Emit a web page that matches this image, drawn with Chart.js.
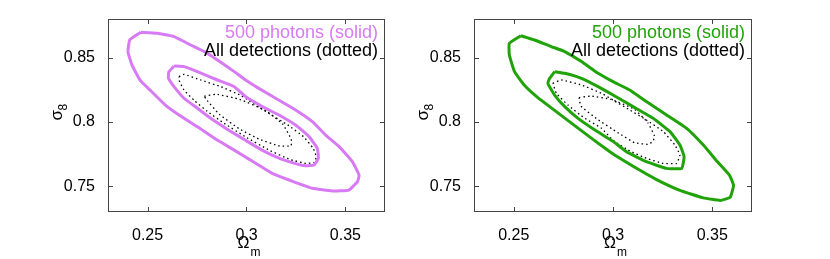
<!DOCTYPE html>
<html>
<head>
<meta charset="utf-8">
<script src="https://cdn.jsdelivr.net/npm/chart.js@4.4.1/dist/chart.umd.min.js"></script>
<style>
  html, body { margin: 0; padding: 0; background: #fff; }
  #wrap { position: relative; width: 830px; height: 259px; }
  .pane { position: absolute; top: 0; width: 415px; height: 259px; }
</style>
</head>
<body>
<div id="wrap">
  <div class="pane" style="left:0"><canvas id="left"></canvas></div>
  <div class="pane" style="left:415px"><canvas id="right"></canvas></div>
</div>
<script>
// tick values
const xTicks = [0.25, 0.3, 0.35];
const yTicks = [0.75, 0.8, 0.85];

// contours, [omega_m, sigma_8]
const leftSolidOuter = [
  [0.2466, 0.8697], [0.2410, 0.8638], [0.2401, 0.8545], [0.2422, 0.8440], [0.2463, 0.8323],
  [0.2514, 0.8246], [0.2590, 0.8131], [0.2659, 0.8054], [0.2752, 0.7962], [0.2852, 0.7859],
  [0.2938, 0.7781], [0.3010, 0.7713], [0.3130, 0.7600], [0.3233, 0.7538], [0.3333, 0.7484],
  [0.3434, 0.7463], [0.3517, 0.7470], [0.3561, 0.7536], [0.3569, 0.7587], [0.3535, 0.7691],
  [0.3468, 0.7808], [0.3400, 0.7898], [0.3333, 0.8002], [0.3248, 0.8093], [0.3147, 0.8184],
  [0.3062, 0.8261], [0.2995, 0.8326], [0.2938, 0.8391], [0.2853, 0.8481], [0.2786, 0.8547],
  [0.2718, 0.8598], [0.2634, 0.8663], [0.2549, 0.8689]
];
const leftSolidInner = [
  [0.2634, 0.8435], [0.2608, 0.8391], [0.2605, 0.8344], [0.2634, 0.8274], [0.2684, 0.8184],
  [0.2752, 0.8106], [0.2819, 0.8028], [0.2904, 0.7942], [0.2995, 0.7857], [0.3076, 0.7783],
  [0.3167, 0.7717], [0.3253, 0.7674], [0.3299, 0.7659], [0.3341, 0.7665], [0.3363, 0.7717],
  [0.3358, 0.7795], [0.3316, 0.7886], [0.3248, 0.7976], [0.3164, 0.8054], [0.3080, 0.8119],
  [0.2995, 0.8197], [0.2938, 0.8274], [0.2853, 0.8326], [0.2752, 0.8391], [0.2684, 0.8430]
];
const leftDotOuter = [
  [0.2659, 0.8352], [0.2684, 0.8370], [0.2768, 0.8326], [0.2870, 0.8274], [0.2970, 0.8207],
  [0.3096, 0.8082], [0.3208, 0.7977], [0.3289, 0.7884], [0.3337, 0.7795], [0.3352, 0.7733],
  [0.3344, 0.7686], [0.3299, 0.7678], [0.3218, 0.7709], [0.3117, 0.7779], [0.2995, 0.7884],
  [0.2887, 0.7989], [0.2802, 0.8082], [0.2735, 0.8168], [0.2684, 0.8248], [0.2659, 0.8324]
];
const leftDotInner = [
  [0.2787, 0.8201], [0.2847, 0.8215], [0.2965, 0.8176], [0.3100, 0.8085], [0.3184, 0.7981],
  [0.3226, 0.7865], [0.3225, 0.7814], [0.3167, 0.7813], [0.3066, 0.7865], [0.2965, 0.7945],
  [0.2863, 0.8059], [0.2796, 0.8176]
];

const rightSolidOuter = [
  [0.2536, 0.8670], [0.2478, 0.8611], [0.2478, 0.8520], [0.2504, 0.8391], [0.2554, 0.8285],
  [0.2620, 0.8191], [0.2706, 0.8090], [0.2792, 0.7989], [0.2879, 0.7888], [0.2960, 0.7795],
  [0.3010, 0.7741], [0.3101, 0.7655], [0.3217, 0.7554], [0.3337, 0.7468], [0.3455, 0.7410],
  [0.3540, 0.7390], [0.3590, 0.7414], [0.3607, 0.7507], [0.3587, 0.7585], [0.3526, 0.7690],
  [0.3455, 0.7820], [0.3371, 0.7950], [0.3270, 0.8054], [0.3168, 0.8158], [0.3084, 0.8248],
  [0.3000, 0.8313], [0.2925, 0.8378], [0.2841, 0.8469], [0.2757, 0.8547], [0.2689, 0.8586],
  [0.2605, 0.8637]
];
const rightSolidInner = [
  [0.2706, 0.8391], [0.2681, 0.8339], [0.2672, 0.8300], [0.2706, 0.8209], [0.2757, 0.8119],
  [0.2824, 0.8028], [0.2909, 0.7937], [0.3000, 0.7849], [0.3067, 0.7769], [0.3168, 0.7691],
  [0.3270, 0.7639], [0.3346, 0.7639], [0.3358, 0.7730], [0.3337, 0.7820], [0.3287, 0.7925],
  [0.3202, 0.8028], [0.3101, 0.8119], [0.3000, 0.8209], [0.2925, 0.8274], [0.2841, 0.8339],
  [0.2757, 0.8378]
];
const rightDotOuter = [
  [0.2697, 0.8300], [0.2740, 0.8326], [0.2841, 0.8287], [0.2943, 0.8222], [0.3000, 0.8170],
  [0.3084, 0.8093], [0.3168, 0.8015], [0.3253, 0.7925], [0.3312, 0.7820], [0.3337, 0.7743],
  [0.3320, 0.7678], [0.3253, 0.7678], [0.3168, 0.7717], [0.3084, 0.7775], [0.3000, 0.7857],
  [0.2943, 0.7950], [0.2858, 0.8028], [0.2773, 0.8131], [0.2715, 0.8222]
];
const rightDotInner = [
  [0.2829, 0.8189], [0.2888, 0.8201], [0.2990, 0.8176], [0.3108, 0.8098], [0.3175, 0.7995],
  [0.3209, 0.7890], [0.3201, 0.7849], [0.3175, 0.7826], [0.3108, 0.7839], [0.3024, 0.7917],
  [0.2922, 0.8020], [0.2838, 0.8124]
];

const FONT = '"Liberation Sans", Arial, Helvetica, sans-serif';

const closed = function (pts) {
  const out = pts.map(p => ({x: p[0], y: p[1]}));
  out.push({x: pts[0][0], y: pts[0][1]});
  return out;
};

const solid = function (pts, color) {
  return {
    data: closed(pts), showLine: true, pointRadius: 0, borderColor: color,
    borderWidth: 3, tension: 0.12, fill: false
  };
};
const dotted = function (pts) {
  return {
    data: closed(pts), showLine: true, pointRadius: 0, borderColor: '#000',
    borderWidth: 1.3, borderDash: [1.5, 3], tension: 0.12, fill: false
  };
};

// frame, inward ticks, sub-scripted axis titles and the text legend
const decor = {
  id: 'decor',
  afterDraw(chart, args, opts) {
    const ctx = chart.ctx;
    const a = chart.chartArea;
    const xs = chart.scales.x, ys = chart.scales.y;
    ctx.save();
    ctx.strokeStyle = '#444';
    ctx.lineWidth = 1;
    ctx.strokeRect(a.left + 0.5, a.top + 0.5, a.right - a.left - 1, a.bottom - a.top - 1);
    ctx.beginPath();
    xTicks.forEach(v => {
      const px = Math.round(xs.getPixelForValue(v)) + 0.5;
      ctx.moveTo(px, a.bottom); ctx.lineTo(px, a.bottom - 5);
      ctx.moveTo(px, a.top); ctx.lineTo(px, a.top + 5);
    });
    yTicks.forEach(v => {
      const py = Math.round(ys.getPixelForValue(v)) + 0.5;
      ctx.moveTo(a.left, py); ctx.lineTo(a.left + 5, py);
      ctx.moveTo(a.right, py); ctx.lineTo(a.right - 5, py);
    });
    ctx.stroke();

    ctx.fillStyle = '#000';
    // x title: Omega_m
    const cx = (a.left + a.right) / 2 - 6;
    ctx.font = '16px ' + FONT;
    ctx.textAlign = 'left';
    ctx.textBaseline = 'alphabetic';
    ctx.fillText('Ω', cx - 3, 248);
    ctx.font = '12px ' + FONT;
    ctx.fillText('m', cx + 10, 256);
    // y title: sigma_8
    ctx.save();
    ctx.translate(a.left - 46, (a.top + a.bottom) / 2 + 5);
    ctx.rotate(-Math.PI / 2);
    ctx.font = '17px ' + FONT;
    ctx.fillText('σ', 0, 0);
    ctx.font = '12px ' + FONT;
    ctx.fillText('8', 10, 5);
    ctx.restore();

    // legend text
    ctx.textAlign = 'right';
    ctx.font = '18px ' + FONT;
    ctx.fillStyle = opts.color;
    ctx.fillText('500 photons (solid)', a.right - 7, 38);
    ctx.fillStyle = '#000';
    ctx.fillText('All detections (dotted)', a.right - 7, 56);
    ctx.restore();
  }
};

const makeChart = function (id, datasets, color, leftW, padRight) {
  const ctx = document.getElementById(id).getContext('2d');
  return new Chart(ctx, {
    type: 'scatter',
    data: {datasets: datasets},
    options: {
      responsive: true,
      maintainAspectRatio: false,
      animation: false,
      layout: {padding: {left: 0, top: 19, right: padRight, bottom: 0}},
      plugins: {legend: {display: false}, tooltip: {enabled: false}, decor: {color: color}},
      scales: {
        x: {
          type: 'linear', min: 0.23, max: 0.37,
          afterBuildTicks: s => { s.ticks = xTicks.map(v => ({value: v})); },
          afterFit: s => { s.height = 47; },
          grid: {display: false}, border: {display: false},
          ticks: {
            color: '#000', font: {size: 16, family: FONT}, padding: 6, maxRotation: 0,
            callback: v => String(v)
          }
        },
        y: {
          type: 'linear', min: 0.73, max: 0.88,
          afterBuildTicks: s => { s.ticks = yTicks.map(v => ({value: v})); },
          afterFit: s => { s.width = leftW; },
          grid: {display: false}, border: {display: false},
          ticks: {
            color: '#000', font: {size: 16, family: FONT}, padding: 5,
            callback: v => String(v)
          }
        }
      }
    },
    plugins: [decor]
  });
};

const violet = 'rgb(216,122,243)';
const green = 'rgb(32,163,8)';

makeChart('left', [
  solid(leftSolidOuter, violet), solid(leftSolidInner, violet),
  dotted(leftDotOuter), dotted(leftDotInner)
], violet, 108, 30);

makeChart('right', [
  solid(rightSolidOuter, green), solid(rightSolidInner, green),
  dotted(rightDotOuter), dotted(rightDotInner)
], green, 59, 78);
</script>
</body>
</html>
